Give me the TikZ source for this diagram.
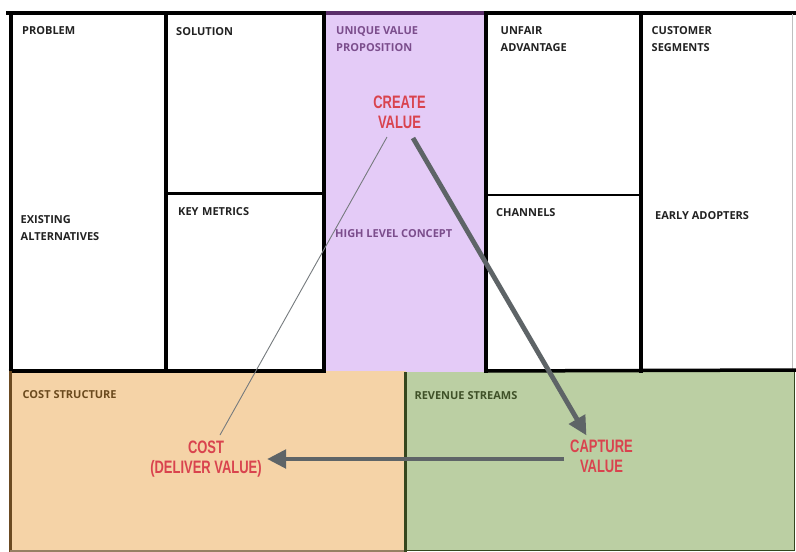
\documentclass[tikz,border=0pt]{standalone}
\usepackage{fontspec}
\usepackage{graphicx}
\setmainfont{Open Sans}
\newfontfamily\redfont[FakeStretch=0.72]{Liberation Sans}
\usetikzlibrary{arrows.meta}
\definecolor{uvpfill}{HTML}{E4CBF7}
\definecolor{costfill}{HTML}{F5D3A7}
\definecolor{revfill}{HTML}{BBCFA3}
\definecolor{uvpline}{HTML}{5A2D6A}
\definecolor{costline}{HTML}{6B4A22}
\definecolor{revline}{HTML}{34471E}
\definecolor{redtext}{HTML}{D9434E}
\definecolor{arrowgrey}{HTML}{5E6467}
\definecolor{uvptext}{HTML}{7B4D8C}
\definecolor{costtext}{HTML}{6B4A1E}
\definecolor{revtext}{HTML}{3F5128}
\definecolor{labelblack}{HTML}{222222}
\begin{document}
\begin{tikzpicture}[x=1pt,y=-1pt,
  frame/.style={line width=4pt,black,line cap=rect},
  thinframe/.style={line width=2.8pt,black},
  lbl/.style={anchor=north west,inner sep=0pt,align=left,
    font=\bfseries\fontsize{11}{17.7}\selectfont,text=labelblack},
  vlabel/.style={anchor=north,inner sep=0pt,align=center,
    font=\redfont\bfseries\fontsize{18}{19.6}\selectfont,text=redtext},
  bigarrow/.style={arrowgrey,line width=4.8pt,-{Triangle[length=19pt,width=18pt]}},
  thinline/.style={arrowgrey!85,line width=0.9pt}]
\useasboundingbox (0,0) rectangle (796,552);
\fill[white] (0,0) rectangle (796,552);
% fills
\fill[uvpfill] (323,12) rectangle (486,372);
\fill[costfill] (10,371) rectangle (405.5,552);
\fill[revfill] (405.5,372) rectangle (794,550);
% top section frame
\draw[frame] (8,12.5) -- (323,12.5);
\draw[line width=4pt,uvpline] (323,12.5) -- (486,12.5);
\draw[frame] (486,12.5) -- (795,12.5);
\draw[frame] (10.5,12.5) -- (10.5,371);
\draw[frame] (166,12.5) -- (166,371);
\draw[frame] (323.5,12.5) -- (323.5,371);
\draw[frame] (486,12.5) -- (486,371);
\draw[frame] (641,12.5) -- (641,371);
\draw[line width=3pt,black] (166,193) -- (323.5,193);
\draw[line width=2.4pt,black] (486,195) -- (641,195);
\draw[line width=0.8pt,black!25] (792,14) -- (792,370);
\draw[line width=3.5pt,black] (8.5,371) -- (323.5,371);
\draw[line width=3.5pt,black] (486,371) -- (796,370);
% bottom boxes
\draw[line width=3pt,costline] (10.5,371) -- (10.5,552);
\draw[line width=2pt,costline!70] (10,551) -- (405.5,551);
\draw[line width=3pt,revline] (405.5,372) -- (405.5,552);
\draw[line width=1pt,revline] (794,372) -- (794,550) -- (405.5,550);
% labels
\node[lbl] (problem) at (22,26) {PROBLEM};
\node[lbl] (solution) at (176,27.3) {SOLUTION};
\node[lbl] (existing) at (20.5,215) {EXISTING\\ALTERNATIVES};
\node[lbl] (keymetrics) at (178,207.3) {KEY\,\,METRICS};
\node[lbl,text=uvptext] (uvp) at (336,26) {UNIQUE VALUE\\PROPOSITION};
\node[lbl,text=uvptext] (hlc) at (335,229.3) {HIGH LEVEL CONCEPT};
\node[lbl] (unfair) at (500.5,26) {UNFAIR\\ADVANTAGE};
\node[lbl] (channels) at (496,208) {CHANNELS};
\node[lbl] (customer) at (651.5,26) {CUSTOMER\\SEGMENTS};
\node[lbl] (early) at (655,211) {EARLY ADOPTERS};
\node[lbl,text=costtext] (coststruct) at (22.5,390.7) {COST STRUCTURE};
\node[lbl,text=revtext] (revenue) at (414.3,391.7) {REVENUE STREAMS};
\node[vlabel] (create) at (399.5,96) {CREATE\\VALUE};
\node[vlabel] (cost) at (206,441) {COST\\(DELIVER VALUE)};
\node[vlabel] (capture) at (601.5,440) {CAPTURE\\VALUE};
% connectors
\coordinate (createL) at (387,137);
\coordinate (createR) at (413,138);
\coordinate (costT) at (220,435);
\coordinate (costR) at (267,459);
\coordinate (captureT) at (586.5,435.5);
\coordinate (captureL) at (564,459);
\draw[thinline] (createL) -- (costT);
\draw[bigarrow] (createR) -- (captureT);
\draw[bigarrow] (captureL) -- (costR);
\end{tikzpicture}
\end{document}
